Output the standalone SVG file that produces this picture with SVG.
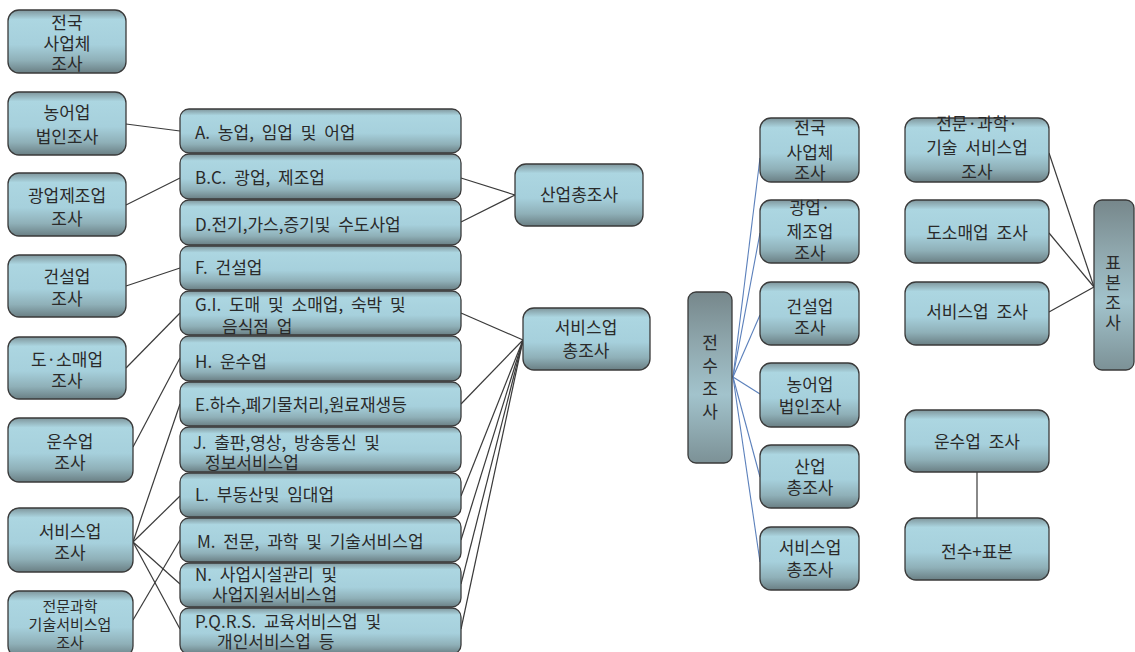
<svg xmlns="http://www.w3.org/2000/svg" width="1135" height="652" viewBox="0 0 1135 652">
<defs>
<linearGradient id="g" x1="0" y1="0" x2="0" y2="1">
<stop offset="0" stop-color="#7f969c"/>
<stop offset="0.15" stop-color="#acd6e1"/>
<stop offset="0.55" stop-color="#a6d0dc"/>
<stop offset="0.8" stop-color="#8fb0b8"/>
<stop offset="1" stop-color="#6a7f84"/>
</linearGradient>
<linearGradient id="gv" x1="0" y1="0" x2="0" y2="1">
<stop offset="0" stop-color="#76878b"/>
<stop offset="0.3" stop-color="#8fa7ad"/>
<stop offset="0.6" stop-color="#a2c3cc"/>
<stop offset="1" stop-color="#7c9196"/>
</linearGradient>
</defs>
<style>
.b{fill:url(#g);stroke:#3a3a3a;stroke-width:1.3}
.v{fill:url(#gv);stroke:#3a3a3a;stroke-width:1.3}
text{font-family:"Noto Sans CJK KR","Noto Sans",sans-serif;font-size:17px;fill:#2a2a2a;word-spacing:4px}
.c{text-anchor:middle}
.s{font-size:15px}
.k{stroke:#3a3a3a;stroke-width:1.2;fill:none}
.bl{stroke:#5b80bb;stroke-width:1.1;fill:none}
</style>
<rect width="1135" height="652" fill="#ffffff"/>

<g id="connectors">
<line class="k" x1="126" y1="124" x2="180" y2="131"/>
<line class="k" x1="126" y1="205" x2="180" y2="178"/>
<line class="k" x1="126" y1="286" x2="180" y2="268"/>
<line class="k" x1="126" y1="368" x2="180" y2="313"/>
<line class="k" x1="133" y1="447" x2="180" y2="358"/>
<line class="k" x1="133" y1="542" x2="180" y2="404"/>
<line class="k" x1="133" y1="542" x2="180" y2="496"/>
<line class="k" x1="133" y1="542" x2="180" y2="584"/>
<line class="k" x1="133" y1="542" x2="180" y2="629"/>
<line class="k" x1="133" y1="620" x2="180" y2="540"/>
<line class="k" x1="461" y1="178" x2="515" y2="195"/>
<line class="k" x1="461" y1="222" x2="515" y2="195"/>
<line class="k" x1="461" y1="313" x2="523" y2="340"/>
<line class="k" x1="461" y1="404" x2="523" y2="340"/>
<line class="k" x1="461" y1="496" x2="523" y2="340"/>
<line class="k" x1="461" y1="540" x2="523" y2="340"/>
<line class="k" x1="461" y1="584" x2="523" y2="340"/>
<line class="k" x1="461" y1="629" x2="523" y2="340"/>
<line class="bl" x1="733" y1="377" x2="760" y2="158"/>
<line class="bl" x1="733" y1="377" x2="760" y2="233"/>
<line class="bl" x1="733" y1="377" x2="760" y2="315"/>
<line class="bl" x1="733" y1="377" x2="760" y2="394"/>
<line class="bl" x1="733" y1="377" x2="760" y2="477"/>
<line class="bl" x1="733" y1="377" x2="760" y2="562"/>
<line class="k" x1="1049" y1="153" x2="1094" y2="287"/>
<line class="k" x1="1049" y1="233" x2="1094" y2="287"/>
<line class="k" x1="1049" y1="312" x2="1094" y2="287"/>
<line class="k" x1="977" y1="472" x2="977" y2="518"/>
</g>

<g id="L1"><rect class="b" x="8" y="10" width="118" height="63" rx="11"/>
<text class="c" x="67" y="29">전국<tspan x="67" dy="21">사업체</tspan><tspan x="67" dy="20">조사</tspan></text></g>
<g id="L2"><rect class="b" x="8" y="92" width="118" height="63" rx="11"/>
<text class="c" x="67" y="119">농어업<tspan x="67" dy="24">법인조사</tspan></text></g>
<g id="L3"><rect class="b" x="8" y="173" width="118" height="63" rx="11"/>
<text class="c" x="67" y="202">광업제조업<tspan x="67" dy="23">조사</tspan></text></g>
<g id="L4"><rect class="b" x="8" y="255" width="118" height="62" rx="11"/>
<text class="c" x="67" y="283">건설업<tspan x="67" dy="22">조사</tspan></text></g>
<g id="L5"><rect class="b" x="8" y="337" width="118" height="62" rx="11"/>
<text class="c" x="67" y="366">도·소매업<tspan x="67" dy="21">조사</tspan></text></g>
<g id="L6"><rect class="b" x="8" y="418" width="125" height="64" rx="11"/>
<text class="c" x="70" y="448">운수업<tspan x="70" dy="21">조사</tspan></text></g>
<g id="L7"><rect class="b" x="8" y="508" width="125" height="64" rx="11"/>
<text class="c" x="70" y="538">서비스업<tspan x="70" dy="21">조사</tspan></text></g>
<g id="L8"><rect class="b" x="8" y="591" width="125" height="66" rx="11"/>
<text class="c s" x="70" y="612">전문과학<tspan x="70" dy="18">기술서비스업</tspan><tspan x="70" dy="18">조사</tspan></text></g>

<g id="MA"><rect class="b" x="180" y="109" width="281" height="44" rx="9"/><text x="195" y="139">A. 농업, 임업 및 어업</text></g>
<g id="MB"><rect class="b" x="180" y="154" width="281" height="45" rx="9"/><text x="195" y="184">B.C. 광업, 제조업</text></g>
<g id="MD"><rect class="b" x="180" y="200" width="281" height="45" rx="9"/><text x="195" y="231">D.전기,가스,증기및 수도사업</text></g>
<g id="MF"><rect class="b" x="180" y="246" width="281" height="44" rx="9"/><text x="195" y="274">F. 건설업</text></g>
<g id="MG"><rect class="b" x="180" y="291" width="281" height="44" rx="9"/><text x="195" y="311">G.I. 도매 및 소매업, 숙박 및<tspan x="222" dy="22">음식점 업</tspan></text></g>
<g id="MH"><rect class="b" x="180" y="336" width="281" height="45" rx="9"/><text x="195" y="368">H.  운수업</text></g>
<g id="ME"><rect class="b" x="180" y="382" width="281" height="44" rx="9"/><text x="195" y="411">E.하수,폐기물처리,원료재생등</text></g>
<g id="MJ"><rect class="b" x="180" y="427" width="281" height="45" rx="9"/><text x="193" y="449">J. 출판,영상, 방송통신 및<tspan x="205" dy="20">정보서비스업</tspan></text></g>
<g id="ML"><rect class="b" x="180" y="473" width="281" height="44" rx="9"/><text x="195" y="501">L. 부동산및 임대업</text></g>
<g id="MM"><rect class="b" x="180" y="518" width="281" height="44" rx="9"/><text x="197" y="548">M. 전문, 과학 및 기술서비스업</text></g>
<g id="MN"><rect class="b" x="180" y="563" width="281" height="44" rx="9"/><text x="195" y="581">N. 사업시설관리 및<tspan x="212" dy="20">사업지원서비스업</tspan></text></g>
<g id="MP"><rect class="b" x="180" y="608" width="281" height="46" rx="9"/><text x="195" y="628">P.Q.R.S. 교육서비스업 및<tspan x="217" dy="20">개인서비스업 등</tspan></text></g>

<g id="S1"><rect class="b" x="515" y="164" width="128" height="62" rx="11"/><text class="c" x="579" y="201">산업총조사</text></g>
<g id="S2"><rect class="b" x="523" y="308" width="127" height="62" rx="11"/><text class="c" x="586" y="334">서비스업<tspan x="586" dy="23">총조사</tspan></text></g>

<g id="R0"><rect class="v" x="688" y="292" width="44" height="171" rx="8"/>
<text class="c" x="710" y="349">전<tspan x="710" dy="23">수</tspan><tspan x="710" dy="23">조</tspan><tspan x="710" dy="23">사</tspan></text></g>
<g id="R1"><rect class="b" x="760" y="118" width="99" height="64" rx="11"/>
<text class="c" x="810" y="134">전국<tspan x="810" dy="25">사업체</tspan><tspan x="810" dy="20">조사</tspan></text></g>
<g id="R2"><rect class="b" x="760" y="200" width="99" height="63" rx="11"/>
<text class="c" x="810" y="214">광업·<tspan x="810" dy="24">제조업</tspan><tspan x="810" dy="21">조사</tspan></text></g>
<g id="R3"><rect class="b" x="760" y="282" width="99" height="63" rx="11"/>
<text class="c" x="810" y="313">건설업<tspan x="810" dy="21">조사</tspan></text></g>
<g id="R4"><rect class="b" x="760" y="363" width="99" height="64" rx="11"/>
<text class="c" x="810" y="391">농어업<tspan x="810" dy="22">법인조사</tspan></text></g>
<g id="R5"><rect class="b" x="760" y="445" width="99" height="63" rx="11"/>
<text class="c" x="810" y="473">산업<tspan x="810" dy="21">총조사</tspan></text></g>
<g id="R6"><rect class="b" x="760" y="527" width="99" height="63" rx="11"/>
<text class="c" x="810" y="554">서비스업<tspan x="810" dy="22">총조사</tspan></text></g>

<g id="T1"><rect class="b" x="905" y="118" width="144" height="64" rx="11"/>
<text class="c" x="977" y="130">전문·과학·<tspan x="977" dy="24">기술 서비스업</tspan><tspan x="977" dy="24">조사</tspan></text></g>
<g id="T2"><rect class="b" x="905" y="200" width="144" height="63" rx="11"/><text class="c" x="977" y="239">도소매업 조사</text></g>
<g id="T3"><rect class="b" x="905" y="282" width="144" height="63" rx="11"/><text class="c" x="977" y="318">서비스업 조사</text></g>
<g id="T0"><rect class="v" x="1094" y="200" width="40" height="170" rx="8"/>
<text class="c" x="1113" y="269">표<tspan x="1113" dy="20">본</tspan><tspan x="1113" dy="20">조</tspan><tspan x="1113" dy="20">사</tspan></text></g>
<g id="U1"><rect class="b" x="905" y="410" width="144" height="62" rx="11"/><text class="c" x="977" y="448">운수업 조사</text></g>
<g id="U2"><rect class="b" x="905" y="518" width="144" height="62" rx="11"/><text class="c" x="977" y="558">전수+표본</text></g>
</svg>
